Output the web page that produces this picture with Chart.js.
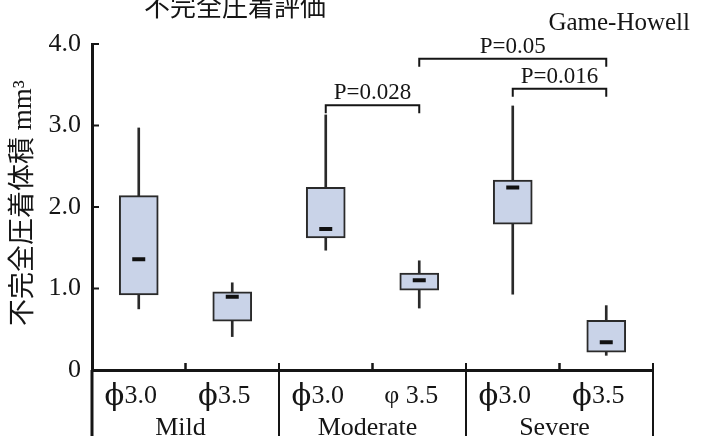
<!DOCTYPE html>
<html lang="ja">
<head>
    <meta charset="UTF-8">
    <title>不完全圧着評価</title>
    <script src="https://cdn.jsdelivr.net/npm/chart.js"></script>
    <style>
        body {
            margin: 0;
            padding: 0;
            background: #fff;
        }
        canvas {
            display: block;
        }
    </style>
</head>
<body>
    <canvas id="boxChart" width="708" height="436"></canvas>

    <script>
        // categories (diameter) and their groups
        const categories = ['ϕ3.0', 'ϕ3.5', 'ϕ3.0', 'φ 3.5', 'ϕ3.0', 'ϕ3.5'];
        const groups = ['Mild', 'Moderate', 'Severe'];

        // box plot values (mm3)
        const whiskerLow  = [0.75, 0.41, 1.47, 0.76, 0.93, 0.18];
        const q1          = [0.92, 0.60, 1.62, 0.98, 1.79, 0.22];
        const median      = [1.36, 0.90, 1.73, 1.10, 2.24, 0.34];
        const q3          = [2.14, 0.96, 2.24, 1.19, 2.33, 0.61];
        const whiskerHigh = [2.97, 1.07, 3.13, 1.34, 3.24, 0.79];

        // y axis ticks
        const yTicks = [0, 1, 2, 3, 4];

        // significance brackets (category index from / to, height, label)
        const bracketFrom = [2, 3, 4];
        const bracketTo = [3, 5, 5];
        const bracketY = [3.25, 3.82, 3.45];
        const bracketLabels = ['P=0.028', 'P=0.05', 'P=0.016'];

        const serif = '"Liberation Serif", "Times New Roman", serif';
        const ink = '#151515';

        function line(ctx, x1, y1, x2, y2) {
            ctx.beginPath();
            ctx.moveTo(x1, y1);
            ctx.lineTo(x2, y2);
            ctx.stroke();
        }

        // label with a big phi drawn in its own font, the rest in serif
        function phiLabel(ctx, text, cx, by) {
            const textFont = '26px ' + serif;
            if (text[0] !== 'ϕ') {
                ctx.font = textFont;
                ctx.textAlign = 'center';
                ctx.fillText(text, cx, by);
                return;
            }
            const phiFont = '29px "DejaVu Serif", serif';
            const rest = text.slice(1);
            ctx.font = phiFont;
            const wPhi = ctx.measureText('ϕ').width;
            ctx.font = textFont;
            const wRest = ctx.measureText(rest).width;
            let x0 = cx - (wPhi + wRest) / 2;
            ctx.textAlign = 'left';
            ctx.font = phiFont;
            ctx.fillText('ϕ', x0, by + 2);
            ctx.font = textFont;
            ctx.fillText(rest, x0 + wPhi, by);
        }

        // extra drawing: brackets, axis decorations, labels, titles
        const annotations = {
            id: 'annotations',
            afterDraw(chart) {
                const { ctx, chartArea: ca, scales: { x, y } } = chart;
                ctx.save();
                ctx.strokeStyle = ink;
                ctx.fillStyle = ink;

                // inward ticks on y axis
                ctx.lineWidth = 2;
                yTicks.forEach(v => {
                    const py = y.getPixelForValue(v);
                    line(ctx, ca.left, py, ca.left + 7, py);
                });

                // category boundary ticks and group separators under the axis
                const step = x.getPixelForValue(1) - x.getPixelForValue(0);
                for (let i = 1; i <= categories.length; i++) {
                    const px = x.getPixelForValue(i - 1) + step / 2;
                    const isSep = i % 2 === 0;
                    ctx.lineWidth = isSep ? 2 : 2.5;
                    line(ctx, px, ca.bottom - 7, px, isSep ? chart.height : ca.bottom);
                }
                ctx.lineWidth = 3;
                line(ctx, ca.left, ca.bottom, ca.left, chart.height);

                // category labels
                ctx.textBaseline = 'alphabetic';
                categories.forEach((c, i) => {
                    phiLabel(ctx, c, x.getPixelForValue(i) - 8, 403);
                });

                // group labels
                ctx.font = '26px ' + serif;
                ctx.textAlign = 'center';
                groups.forEach((g, i) => {
                    const px = (x.getPixelForValue(i * 2) + x.getPixelForValue(i * 2 + 1)) / 2;
                    ctx.fillText(g, px - 5, 435);
                });

                // significance brackets
                ctx.lineWidth = 2;
                ctx.font = '23px ' + serif;
                bracketLabels.forEach((label, i) => {
                    const x1 = x.getPixelForValue(bracketFrom[i]);
                    const x2 = x.getPixelForValue(bracketTo[i]);
                    const py = y.getPixelForValue(bracketY[i]);
                    ctx.beginPath();
                    ctx.moveTo(x1, py + 8);
                    ctx.lineTo(x1, py);
                    ctx.lineTo(x2, py);
                    ctx.lineTo(x2, py + 8);
                    ctx.stroke();
                    ctx.fillText(label, (x1 + x2) / 2, py - 6);
                });

                // test name
                ctx.font = '25px ' + serif;
                ctx.textAlign = 'right';
                ctx.fillText('Game-Howell', 690, 30);

                // title (cut off at the top as in the source)
                ctx.font = '26px "Noto Sans CJK JP", sans-serif';
                ctx.textAlign = 'center';
                ctx.fillText('不完全圧着評価', 235, 16);

                // y axis title
                ctx.save();
                ctx.translate(24, 203);
                ctx.rotate(-Math.PI / 2);
                ctx.textBaseline = 'middle';
                ctx.font = '27px ' + serif + ', "Noto Sans CJK JP"';
                ctx.fillText('不完全圧着体積 mm³', 0, 0);
                ctx.restore();

                ctx.restore();
            }
        };

        const ctx = document.getElementById('boxChart').getContext('2d');

        new Chart(ctx, {
            data: {
                labels: categories,
                datasets: [
                    {
                        type: 'line',
                        label: 'Median',
                        data: median,
                        showLine: false,
                        pointStyle: 'line',
                        pointRadius: 6.5,
                        pointBorderWidth: 4,
                        pointBorderColor: '#111',
                        borderColor: '#111',
                        order: 1
                    },
                    {
                        type: 'bar',
                        label: 'IQR',
                        data: q1.map((v, i) => [v, q3[i]]),
                        backgroundColor: '#c9d3e8',
                        borderColor: '#2a2a2a',
                        borderWidth: 2,
                        borderSkipped: false,
                        barThickness: 39,
                        grouped: false,
                        order: 2
                    },
                    {
                        type: 'bar',
                        label: 'Range',
                        data: whiskerLow.map((v, i) => [v, whiskerHigh[i]]),
                        backgroundColor: '#2a2a2a',
                        barThickness: 2,
                        grouped: false,
                        order: 3
                    }
                ]
            },
            options: {
                responsive: false,
                animation: false,
                layout: {
                    padding: { top: 44, right: 55, left: 0, bottom: 0 }
                },
                plugins: {
                    legend: { display: false },
                    tooltip: { enabled: false }
                },
                scales: {
                    x: {
                        offset: true,
                        grid: { display: false, drawTicks: false },
                        ticks: { display: false },
                        border: { display: true, width: 3, color: ink },
                        afterFit: s => { s.height = 66; }
                    },
                    y: {
                        min: 0,
                        max: 4,
                        afterBuildTicks: s => { s.ticks = yTicks.map(v => ({ value: v })); },
                        grid: { display: false, drawTicks: false },
                        border: { display: true, width: 3, color: ink },
                        ticks: {
                            padding: 11,
                            color: ink,
                            font: { family: 'Liberation Serif', size: 26 },
                            callback: v => v === 0 ? '0' : v.toFixed(1)
                        },
                        afterFit: s => { s.width = 92; }
                    }
                }
            },
            plugins: [annotations]
        });
    </script>
</body>
</html>
